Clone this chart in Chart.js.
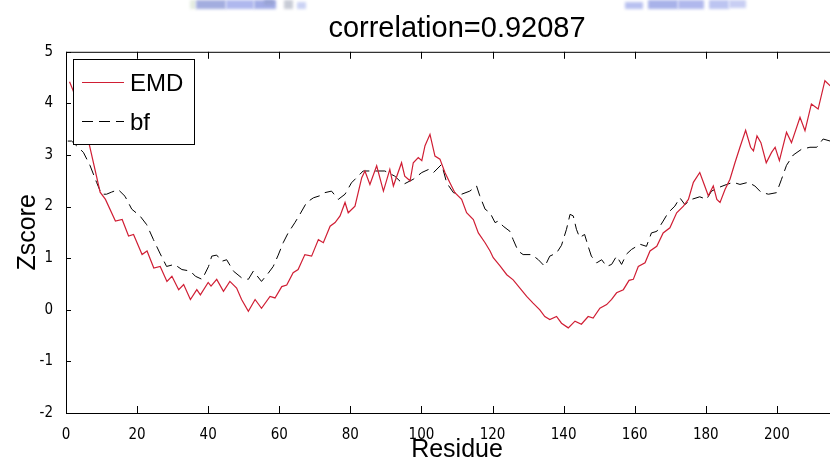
<!DOCTYPE html>
<html>
<head>
<meta charset="utf-8">
<script src="https://cdn.jsdelivr.net/npm/chart.js@4/dist/chart.umd.min.js"></script>
<style>
  html, body { margin: 0; padding: 0; background: #fff; overflow: hidden; }
  #zChart { display: block; }
</style>
</head>
<body>
<canvas id="zChart" width="848" height="470"></canvas>
<script>
// Z-score profiles along the sequence
const emdResidue = [1, 2, 4, 6.4, 9.6, 11.1, 13.9, 15.8, 17.6, 19.0, 21.4, 22.8, 24.7, 26.5, 28.4, 29.8,
  31.7, 33.1, 35.0, 36.8, 37.8, 40.0, 40.8, 42.4, 44.3, 46.1, 48.0, 49.4, 51.3, 53.2, 55.0, 57.4,
  58.8, 60.7, 62.1, 63.9, 65.3, 67.2, 69.1, 71.0, 72.4, 74.3, 75.7, 77.1, 78.5, 79.4, 81.3, 83.2,
  84.1, 85.5, 87.4, 89.3, 91.1, 92.1, 94.4, 95.3, 96.8, 97.7, 99.1, 100.1, 101.0, 102.4, 103.8, 105.2,
  106.6, 108.0, 109.4, 111.3, 112.7, 114.6, 116.0, 117.9, 119.3, 120.2, 122.1, 124.0, 125.8, 127.7,
  129.6, 131.4, 133.3, 134.7, 136.1, 138.0, 139.4, 141.3, 143.2, 145.0, 146.9, 148.3, 150.2, 152.1,
  153.5, 154.9, 156.8, 158.4, 159.6, 161.0, 162.9, 164.3, 166.2, 168.0, 169.9, 171.8, 173.7, 175.1,
  176.5, 178.3, 179.7, 180.7, 182.1, 183.1, 184.0, 185.4, 186.8, 188.2, 189.6, 191.2, 192.6, 193.4,
  194.4, 195.5, 197.0, 198.5, 199.5, 200.7, 202.7, 204.1, 206.5, 207.9, 209.7, 211.6, 213.5, 215];
const emdZscore = [4.42, 4.25, 3.85, 3.25, 2.28, 2.14, 1.72, 1.75, 1.43, 1.46, 1.07, 1.14, 0.81, 0.84, 0.55, 0.65,
  0.39, 0.49, 0.20, 0.39, 0.29, 0.53, 0.46, 0.59, 0.36, 0.55, 0.42, 0.20, -0.03, 0.20, 0.03, 0.26,
  0.23, 0.45, 0.48, 0.72, 0.78, 1.07, 1.04, 1.36, 1.30, 1.62, 1.69, 1.82, 2.08, 1.88, 2.01, 2.56,
  2.69, 2.43, 2.79, 2.30, 2.72, 2.40, 2.85, 2.59, 2.50, 2.85, 2.95, 2.89, 3.18, 3.40, 2.98, 2.92,
  2.66, 2.46, 2.27, 2.14, 1.88, 1.75, 1.49, 1.30, 1.14, 1.01, 0.85, 0.68, 0.58, 0.42,
  0.26, 0.13, 0.00, -0.13, -0.19, -0.13, -0.26, -0.35, -0.22, -0.28, -0.13, -0.16, 0.03, 0.10,
  0.20, 0.33, 0.39, 0.57, 0.59, 0.84, 0.91, 1.14, 1.23, 1.49, 1.59, 1.88, 2.01, 2.14,
  2.47, 2.66, 2.40, 2.21, 2.40, 2.14, 2.08, 2.33, 2.53, 2.85, 3.15, 3.48, 3.15, 3.08,
  3.37, 3.24, 2.85, 3.05, 3.15, 2.89, 3.44, 3.24, 3.73, 3.47, 3.99, 3.89, 4.44, 4.34];

const bfResidue = [0.5, 1.6, 4.9, 6.8, 8.6, 10.0, 11.4, 12.8, 14.7, 16.6, 18.5, 20.8, 22.7, 24.6, 26.4, 28.3,
  30.5, 32.6, 35.0, 36.4, 38.3, 40.1, 41.0, 42.4, 43.8, 45.2, 47.1, 49.4, 51.3, 52.7, 55.0, 56.9,
  58.3, 59.7, 61.1, 62.5, 64.4, 65.8, 67.7, 69.6, 71.4, 72.8, 74.7, 76.6, 78.5, 80.3, 83.6, 86.5,
  89.7, 92.5, 94.9, 97.7, 100.1, 102.0, 103.4, 105.7, 107.1, 109.0, 111.3, 113.6, 115.5, 116.4, 117.9, 119.3,
  120.7, 121.6, 123.0, 124.9, 125.8, 127.2, 128.6, 131.0, 132.9, 134.7, 136.1, 138.0, 139.4, 140.8,
  141.8, 142.7, 143.6, 144.5, 145.9, 146.9, 147.8, 149.3, 150.7, 152.1, 153.5, 154.9, 156.3, 157.7,
  159.1, 161.5, 163.3, 164.7, 166.2, 168.0, 169.4, 171.3, 172.7, 174.1, 176.0, 178.3, 180.2, 181.6,
  184.0, 185.9, 187.7, 189.6, 191.9, 193.8, 195.5, 197.6, 199.9, 201.3, 202.7, 204.6, 206.9, 209.3,
  211.2, 213.0, 215];
const bfZscore = [3.27, 3.27, 3.05, 2.79, 2.47, 2.24, 2.24, 2.28, 2.33, 2.20, 1.95, 1.82, 1.65, 1.36, 1.10, 0.84,
  0.88, 0.78, 0.75, 0.65, 0.59, 0.84, 1.04, 1.06, 0.94, 0.97, 0.75, 0.62, 0.59, 0.75, 0.55, 0.71,
  0.84, 1.06, 1.30, 1.49, 1.69, 1.85, 2.08, 2.17, 2.21, 2.27, 2.30, 2.14, 2.24, 2.46, 2.69, 2.69,
  2.69, 2.59, 2.43, 2.53, 2.66, 2.72, 2.66, 2.82, 2.46, 2.27, 2.24, 2.30, 2.40, 2.21, 1.95, 1.88,
  1.69, 1.72, 1.62, 1.52, 1.36, 1.14, 1.07, 1.07, 0.97, 0.84, 1.04, 1.10, 1.25, 1.56,
  1.85, 1.82, 1.56, 1.40, 1.46, 1.23, 1.04, 0.91, 0.97, 0.84, 0.88, 1.04, 0.88, 1.08,
  1.17, 1.27, 1.23, 1.49, 1.52, 1.72, 1.88, 2.01, 2.17, 2.04, 2.14, 2.19, 2.14, 2.30,
  2.38, 2.43, 2.47, 2.43, 2.47, 2.40, 2.28, 2.24, 2.27, 2.53, 2.80, 3.00, 3.11, 3.15,
  3.15, 3.31, 3.27];

const xTickValues = [0, 20, 40, 60, 80, 100, 120, 140, 160, 180, 200];
const yTickValues = [-2, -1, 0, 1, 2, 3, 4, 5];
const seriesNames = ['EMD', 'bf'];

const toPoints = (xs, ys) => xs.map((x, i) => ({ x: x, y: ys[i] }));

const tickFont = { family: "'Liberation Sans Narrow', 'DejaVu Sans Condensed', sans-serif", size: 15 };
const labelFont = { family: "'Liberation Sans', Arial, sans-serif", size: 25 };
const RED = '#d01e34';
const BF_DASH = [11, 6];

// faint bluish scraps along the top edge
const topScraps = {
  id: 'topScraps',
  beforeDraw(chart) {
    const ctx = chart.ctx;
    ctx.save();
    ctx.filter = 'blur(1.8px)';
    const blocks = [
      [190, 0, 6, 9, '#e4ece0'], [196, 0, 30, 9, '#a3addf'], [226, 0, 28, 9, '#afb8ee'],
      [254, 0, 22, 9, '#a2ace6'], [264, 0, 10, 5, '#98a3d4'], [284, 0, 9, 9, '#c7cbd6'],
      [297, 2, 9, 7, '#cad2f4'], [625, 2, 18, 7, '#b8c0f0'], [648, 0, 30, 9, '#a8b2e9'],
      [678, 0, 26, 9, '#b0b8ed'], [709, 0, 20, 9, '#bcc4f1'], [729, 0, 17, 8, '#c8cef3']
    ];
    blocks.forEach(([x, y, w, h, c]) => { ctx.fillStyle = c; ctx.fillRect(x, y, w, h); });
    ctx.restore();
  }
};

// box with inward ticks, then the legend on top
const axesBox = {
  id: 'axesBox',
  afterDatasetsDraw(chart) {
    const { ctx, chartArea: a, scales: { x, y } } = chart;
    ctx.save();
    ctx.strokeStyle = '#000';
    ctx.lineWidth = 1;
    ctx.beginPath();
    ctx.strokeRect(a.left + 0.5, a.top + 0.5, a.right - a.left - 1, a.bottom - a.top);
    xTickValues.forEach(v => {
      const px = Math.round(x.getPixelForValue(v)) + 0.5;
      ctx.moveTo(px, a.bottom); ctx.lineTo(px, a.bottom - 7);
      ctx.moveTo(px, a.top); ctx.lineTo(px, a.top + 7);
    });
    yTickValues.forEach(v => {
      const py = Math.round(y.getPixelForValue(v)) + 0.5;
      ctx.moveTo(a.left, py); ctx.lineTo(a.left + 5, py);
    });
    ctx.stroke();

    // legend
    const bx = 73.5, by = 59.5, bw = 121, bh = 85;
    ctx.fillStyle = '#fff';
    ctx.fillRect(bx, by, bw, bh);
    ctx.strokeRect(bx, by, bw, bh);
    const rows = [82, 121];
    ctx.font = "24px 'Liberation Sans', Arial, sans-serif";
    ctx.textBaseline = 'middle';
    chart.data.datasets.forEach((ds, i) => {
      ctx.beginPath();
      ctx.strokeStyle = ds.borderColor;
      ctx.setLineDash(ds.borderDash || []);
      ctx.moveTo(82, rows[i] + 0.5);
      ctx.lineTo(124, rows[i] + 0.5);
      ctx.stroke();
      ctx.setLineDash([]);
      ctx.fillStyle = '#000';
      ctx.fillText(ds.label, 130, rows[i] + 2);
    });
    ctx.restore();
  }
};

new Chart(document.getElementById('zChart'), {
  type: 'line',
  data: {
    datasets: [{
      label: seriesNames[0],
      data: toPoints(emdResidue, emdZscore),
      borderColor: RED,
      borderWidth: 1.2,
      pointRadius: 0,
      tension: 0
    }, {
      label: seriesNames[1],
      data: toPoints(bfResidue, bfZscore),
      borderColor: '#000',
      borderWidth: 1,
      borderDash: BF_DASH,
      pointRadius: 0,
      tension: 0
    }]
  },
  options: {
    responsive: false,
    animation: false,
    layout: { padding: 0 },
    plugins: {
      legend: { display: false },
      tooltip: { enabled: false },
      title: {
        display: true,
        fullSize: false,
        text: 'correlation=0.92087',
        color: '#000',
        font: { family: "'Liberation Sans', Arial, sans-serif", size: 29, weight: 'normal' },
        padding: { top: 12, bottom: 5 }
      }
    },
    scales: {
      x: {
        type: 'linear',
        min: 0,
        max: 220,
        grid: { display: false },
        border: { display: false },
        afterBuildTicks: s => { s.ticks = xTickValues.map(v => ({ value: v })); },
        afterFit: s => { s.height = 57; },
        ticks: { color: '#000', font: tickFont, padding: 5, maxRotation: 0, autoSkip: false },
        title: { display: true, text: 'Residue', color: '#000', font: labelFont, padding: { top: 0, bottom: 5 } }
      },
      y: {
        min: -2,
        max: 5,
        grid: { display: false },
        border: { display: false },
        afterBuildTicks: s => { s.ticks = yTickValues.map(v => ({ value: v })); },
        afterFit: s => { s.width = 66; },
        ticks: { color: '#000', font: tickFont, padding: 5 },
        title: { display: true, text: 'Zscore', color: '#000', font: labelFont, padding: { top: 13, bottom: 0 } }
      }
    }
  },
  plugins: [topScraps, axesBox]
});
</script>
</body>
</html>
